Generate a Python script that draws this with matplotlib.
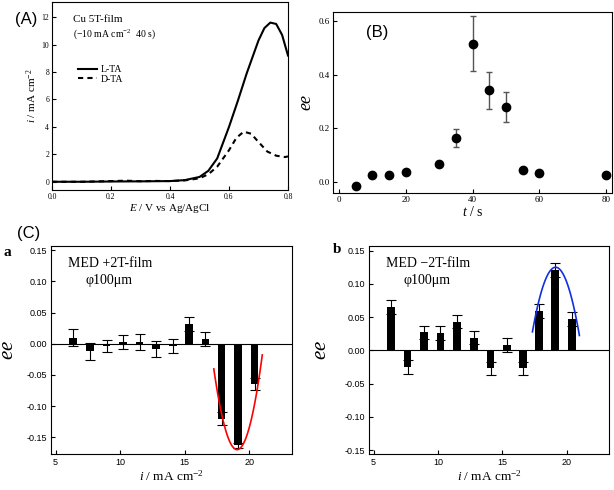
import numpy as np
import matplotlib
matplotlib.use("Agg")
import matplotlib.pyplot as plt

plt.rcParams['mathtext.fontset'] = 'custom'
plt.rcParams['mathtext.rm'] = 'Liberation Serif'
plt.rcParams['mathtext.it'] = 'Liberation Serif:italic'
plt.rcParams['xtick.direction'] = 'in'
plt.rcParams['ytick.direction'] = 'in'

SERIF = 'Liberation Serif'
SANS = 'Liberation Sans'

# (A) anodic current vs potential
E_L = [0.0, 0.1, 0.2, 0.3, 0.4, 0.45, 0.5, 0.53, 0.56, 0.6, 0.63, 0.66, 0.7, 0.72, 0.74, 0.76, 0.78, 0.8]
i_L = [0.0, 0.0, 0.02, 0.03, 0.05, 0.12, 0.35, 0.8, 1.7, 4.0, 5.9, 7.9, 10.3, 11.2, 11.6, 11.5, 10.7, 9.2]
E_D = [0.0, 0.1, 0.2, 0.25, 0.3, 0.35, 0.4, 0.45, 0.5, 0.53, 0.56, 0.6, 0.625, 0.65, 0.675, 0.7, 0.73, 0.76, 0.79, 0.8]
i_D = [0.0, 0.0, 0.05, 0.08, 0.04, 0.06, 0.05, 0.1, 0.25, 0.55, 1.1, 2.3, 3.2, 3.65, 3.5, 2.9, 2.2, 1.9, 1.8, 1.85]

# (B) ee vs deposition time
t_s = [5, 10, 15, 20, 30, 35, 40, 45, 50, 55, 60, 80]
ee_t = [-0.015, 0.025, 0.027, 0.036, 0.068, 0.163, 0.517, 0.343, 0.280, 0.045, 0.031, 0.024]
ee_t_err = [0, 0, 0, 0, 0, 0.033, 0.104, 0.069, 0.056, 0, 0, 0]

# (C) ee vs current density
i_c = [6.35, 7.65, 8.95, 10.2, 11.5, 12.8, 14.1, 15.35, 16.6, 17.85, 19.1, 20.4]
ee_a = [0.010, -0.012, -0.004, 0.003, 0.003, -0.008, -0.004, 0.032, 0.008, -0.120, -0.163, -0.065]
ee_a_err = [0.013, 0.014, 0.010, 0.011, 0.013, 0.013, 0.011, 0.011, 0.011, 0.010, 0.004, 0.010]
ee_b = [0.065, -0.025, 0.027, 0.026, 0.043, 0.019, -0.027, 0.008, -0.027, 0.059, 0.121, 0.047]
ee_b_err = [0.010, 0.010, 0.010, 0.010, 0.010, 0.010, 0.010, 0.010, 0.010, 0.010, 0.010, 0.010]
# quadratic fits: ee = k*(i - i0)^2 + ee0, drawn over [lo, hi]
fit_a = dict(k=0.040, i0=19.05, ee0=-0.170, lo=17.25, hi=21.0)
fit_b = dict(k=-0.030, i0=19.15, ee0=0.125, lo=17.35, hi=21.0)

W, H = 614, 490
fig = plt.figure(figsize=(W / 100, H / 100), dpi=100)


def box(l, t, r, b):
    return [l / W, 1 - b / H, (r - l) / W, (b - t) / H]


# ---- panel A
ax = fig.add_axes(box(52, 2, 288, 190))
ax.plot(E_L, i_L, color='black', lw=1.5, label='L-TA')
ax.plot(E_D, i_D, color='black', lw=1.5, ls=(0, (2.5, 2)), label='D-TA')
ax.set_xlim(0, 0.8)
ax.set_ylim(-0.6, 13.1)
ax.set_xticks([0, 0.2, 0.4, 0.6, 0.8])
ax.set_xticklabels(['0.0', '0.2', '0.4', '0.6', '0.8'])
ax.set_yticks(range(0, 13, 2))
ax.tick_params(labelsize=5.5, length=3, width=0.8, pad=2)
for lab in ax.get_xticklabels() + ax.get_yticklabels():
    lab.set_fontfamily(SERIF)
ax.set_xlabel('$E$ / V vs Ag/AgCl', fontsize=8, fontfamily=SERIF)
ax.set_ylabel('$i$ / mA cm$^{-2}$', fontsize=8, fontfamily=SERIF)
ax.xaxis.set_label_coords(0.5, -0.062)
ax.yaxis.set_label_coords(-0.055, 0.5)
ax.text(0.07, 11.85, 'Cu 5T-film', fontsize=8, fontfamily=SERIF, va='center')
ax.text(0.07, 10.75, '(\u221210 mA cm$^{-2}$  40 s)', fontsize=7, fontfamily=SERIF,
        va='center')
ax.legend(loc='upper left', bbox_to_anchor=(0.08, 0.7), frameon=False,
          prop={'family': SERIF, 'size': 7}, handlelength=2.0,
          labelspacing=0.05, handletextpad=0.4, borderpad=0.2)
fig.text(15 / W, 1 - 24 / H, '(A)', fontsize=12, fontfamily=SANS)

# ---- panel B
ax = fig.add_axes(box(333, 12, 612, 193))
ax.errorbar(t_s, ee_t, yerr=ee_t_err, fmt='o', color='black', ms=6,
            ecolor='#555555', elinewidth=1, capsize=2.5)
ax.set_xlim(-1.8, 81.8)
ax.set_ylim(-0.042, 0.635)
ax.set_xticks(range(0, 81, 20))
ax.set_yticks([0.0, 0.2, 0.4, 0.6])
ax.set_yticklabels(['0.0', '0.2', '0.4', '0.6'])
ax.tick_params(labelsize=6.5, length=3, width=0.8, pad=2)
for lab in ax.get_xticklabels() + ax.get_yticklabels():
    lab.set_fontfamily(SERIF)
ax.set_xlabel('$t$ / s', fontsize=10, fontfamily=SERIF)
ax.set_ylabel('$ee$', fontsize=13, fontfamily=SERIF)
ax.xaxis.set_label_coords(0.5, -0.065)
ax.yaxis.set_label_coords(-0.065, 0.5)
ax.text(0.12, 0.86, '(B)', transform=ax.transAxes, fontsize=12, fontfamily=SANS)

fig.text(17 / W, 1 - 238 / H, '(C)', fontsize=12, fontfamily=SANS)


def panel_c(rect, ee, err, fit, color, ylim, tag, note, tagx, tagy, ylx):
    ax = fig.add_axes(rect)
    ax.bar(i_c, ee, width=0.6, color='black', zorder=2)
    ax.errorbar(i_c, ee, yerr=err, fmt='none', ecolor='black',
                elinewidth=0.8, capsize=3.5, capthick=0.8, zorder=3)
    xs = np.linspace(fit['lo'], fit['hi'], 100)
    ax.plot(xs, fit['k'] * (xs - fit['i0']) ** 2 + fit['ee0'],
            color=color, lw=1.2, zorder=4)
    ax.axhline(0, color='black', lw=0.8, zorder=1)
    ax.set_xlim(4.65, 23.3)
    ax.set_ylim(*ylim)
    ax.set_xticks([5, 10, 15, 20])
    ax.set_yticks([-0.15, -0.10, -0.05, 0.0, 0.05, 0.10, 0.15])
    ax.set_yticklabels(['-0.15', '-0.10', '-0.05', '0.00', '0.05', '0.10', '0.15'])
    ax.tick_params(labelsize=6.5, length=3, width=0.8, pad=3)
    for lab in ax.get_xticklabels() + ax.get_yticklabels():
        lab.set_fontfamily(SANS)
    ax.set_xlabel('$i$ / mA cm$^{-2}$', fontsize=9.5, fontfamily=SERIF)
    ax.set_ylabel('$ee$', fontsize=15, fontfamily=SERIF)
    ax.xaxis.set_label_coords(0.5, -0.072)
    ax.yaxis.set_label_coords(ylx, 0.5)
    ax.text(0.07, 0.918, note, transform=ax.transAxes, fontsize=10,
            fontfamily=SERIF, va='center')
    ax.text(0.145, 0.835, '\u03c6100\u03bcm', transform=ax.transAxes,
            fontsize=10, fontfamily=SERIF, va='center')
    fig.text(tagx / W, 1 - tagy / H, tag, fontsize=11, fontweight='bold',
             fontfamily=SERIF)
    return ax


panel_c(box(51, 246, 292, 454), ee_a, ee_a_err, fit_a, 'red',
        (-0.177, 0.157), 'a', 'MED +2T-film', 4, 256, -0.137)
panel_c(box(369, 246, 609, 454), ee_b, ee_b_err, fit_b, '#1030e0',
        (-0.156, 0.157), 'b', 'MED \u22122T-film', 333, 253, -0.16)

fig.savefig('out.png', dpi=100)
